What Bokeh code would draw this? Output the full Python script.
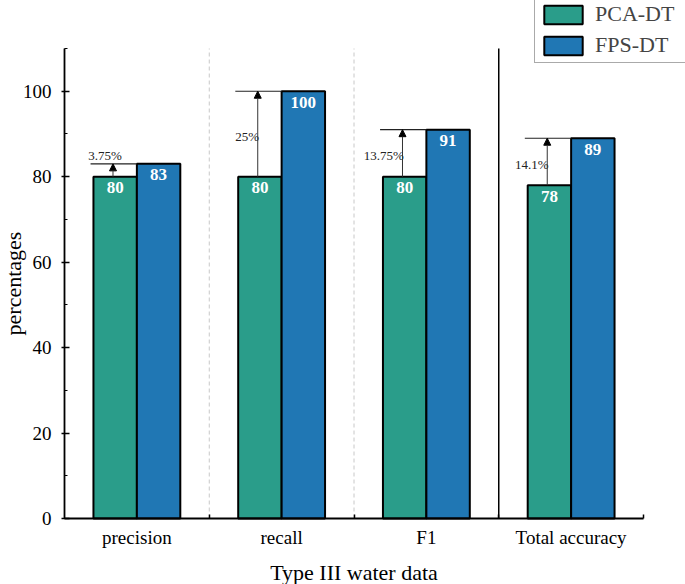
from bokeh.plotting import figure
from bokeh.models import (ColumnDataSource, FixedTicker, Arrow, NormalHead,
                          Legend, LegendItem, Range1d)
from bokeh.core.properties import value
from bokeh.embed import file_html
from bokeh.resources import INLINE

categories = ["precision", "recall", "F1", "Total accuracy"]
pca_dt = [80, 80, 80, 78]
fps_dt = [83, 100, 91, 89]
gain_labels = ["3.75%", "25%", "13.75%", "14.1%"]
y_ticks = [0, 20, 40, 60, 80, 100]
y_minor = [10, 30, 50, 70, 90, 110]

SERIF = "Liberation Serif"
PCA_COLOR = "#2A9D8A"
FPS_COLOR = "#2077B4"
BW = 0.30
Y_TOP = 110

W, H = 685, 584
# layout: pixel placement of the data area inside the canvas
X0_PX, X4_PX = 64, 643          # x = 0 and x = 4
Y0_PX, YT_PX = 518, 48          # y = 0 and y = 110 (from top)
sx = (X4_PX - X0_PX) / 4.0
sy = (Y0_PX - YT_PX) / float(Y_TOP)

centers = [i + 0.5 for i in range(len(categories))]

p = figure(width=W, height=H,
           x_range=Range1d(-X0_PX / sx, (W - X0_PX) / sx),
           y_range=Range1d(-(H - Y0_PX) / sy, Y0_PX / sy),
           output_backend="svg", toolbar_location=None,
           min_border=0, min_border_left=0, min_border_right=0,
           min_border_top=0, min_border_bottom=0)
p.outline_line_color = None
p.xgrid.visible = False
p.ygrid.visible = False

# separators between groups
p.segment(x0=[1, 2], y0=[0, 0], x1=[1, 2], y1=[Y_TOP, Y_TOP],
          line_color="#c8c8c8", line_dash="4 3", line_width=1)
p.segment(x0=[3], y0=[0], x1=[3], y1=[Y_TOP], line_color="black", line_width=1.5)

src = ColumnDataSource(dict(
    xp=[c - BW / 2 for c in centers],
    xf=[c + BW / 2 for c in centers],
    pca=pca_dt, fps=fps_dt,
    pca_s=[str(v) for v in pca_dt], fps_s=[str(v) for v in fps_dt],
))
r1 = p.vbar(x="xp", top="pca", width=BW, source=src, fill_color=PCA_COLOR,
            line_color="black", line_width=2)
r2 = p.vbar(x="xf", top="fps", width=BW, source=src, fill_color=FPS_COLOR,
            line_color="black", line_width=2)

for xs, ys, ts in [("xp", "pca", "pca_s"), ("xf", "fps", "fps_s")]:
    p.text(x=xs, y=ys, text=ts, source=src, text_color="white",
           text_font=value(SERIF), text_font_style="bold",
           text_font_size="17px", text_align="center",
           text_baseline="middle", y_offset=11)

# difference annotations
ann = ColumnDataSource(dict(
    x0=[c - BW - 0.02 for c in centers],
    x1=[c for c in centers],
    xa=[c - BW / 2 - 0.015 for c in centers],
    y0=pca_dt, y1=fps_dt,
))
p.segment(x0="x0", y0="y1", x1="x1", y1="y1", source=ann, line_color="#222222",
          line_width=1.2)
p.add_layout(Arrow(end=NormalHead(size=7, fill_color="black", line_color="black"),
                   x_start="xa", y_start="y0", x_end="xa", y_end="y1",
                   source=ann, line_color="#333333", line_width=1))

above_x, above_y, above_t = [], [], []
side_x, side_y, side_t = [], [], []
for c, a, b, t in zip(centers, pca_dt, fps_dt, gain_labels):
    if b - a < 5:
        above_x.append(c - BW / 2 - 0.07); above_y.append(b); above_t.append(t)
    else:
        side_x.append(c - BW / 2 - 0.005); side_y.append((a + b) / 2 - 0.6); side_t.append(t)
p.text(x=above_x, y=above_y, text=above_t, text_font=value(SERIF),
       text_font_size="13px", text_color="#222222", text_align="center",
       text_baseline="bottom", y_offset=-1)
p.text(x=side_x, y=side_y, text=side_t, text_font=value(SERIF),
       text_font_size="13px", text_color="#222222", text_align="right",
       text_baseline="middle")

# axes, fixed at the data origin
xa = p.xaxis[0]
xa.fixed_location = 0
xa.bounds = (0, 4)
xa.ticker = FixedTicker(ticks=centers, minor_ticks=[1, 2, 3, 4])
xa.major_label_overrides = {c: n for c, n in zip(centers, categories)}
xa.major_tick_in = 0
xa.major_tick_out = 0
xa.minor_tick_in = 4
xa.minor_tick_out = 0
xa.minor_tick_line_width = 1.5
xa.axis_line_width = 1.8
xa.major_label_text_font = SERIF
xa.major_label_text_font_size = "19px"
xa.major_label_text_color = "black"
xa.major_label_standoff = 8
xa.axis_label = "Type III water data"
xa.axis_label_text_font = SERIF
xa.axis_label_text_font_size = "22px"
xa.axis_label_text_font_style = "normal"
xa.axis_label_text_color = "black"
xa.axis_label_standoff = 9

ya = p.yaxis[0]
ya.fixed_location = 0
ya.bounds = (0, Y_TOP)
ya.ticker = FixedTicker(ticks=y_ticks, minor_ticks=y_minor)
ya.major_tick_in = 5
ya.major_tick_out = 3
ya.minor_tick_in = 3
ya.minor_tick_out = 0
ya.major_tick_line_width = 1.5
ya.minor_tick_line_width = 1.2
ya.axis_line_width = 1.8
ya.major_label_text_font = SERIF
ya.major_label_text_font_size = "19px"
ya.major_label_text_color = "black"
ya.major_label_standoff = 10
ya.axis_label = "percentages"
ya.axis_label_text_font = SERIF
ya.axis_label_text_font_size = "22px"
ya.axis_label_text_font_style = "normal"
ya.axis_label_text_color = "black"
ya.axis_label_standoff = -6

legend = Legend(items=[LegendItem(label="PCA-DT", renderers=[r1]),
                       LegendItem(label="FPS-DT", renderers=[r2])],
                location=(534, 521), glyph_width=48, glyph_height=23,
                label_height=23, label_width=90, spacing=5, padding=4,
                margin=0, label_standoff=8, label_text_font=SERIF,
                label_text_font_size="22px", border_line_color="#555555",
                border_line_width=1, background_fill_alpha=1)
p.add_layout(legend)

open("out.html", "w").write(file_html(p, INLINE))
